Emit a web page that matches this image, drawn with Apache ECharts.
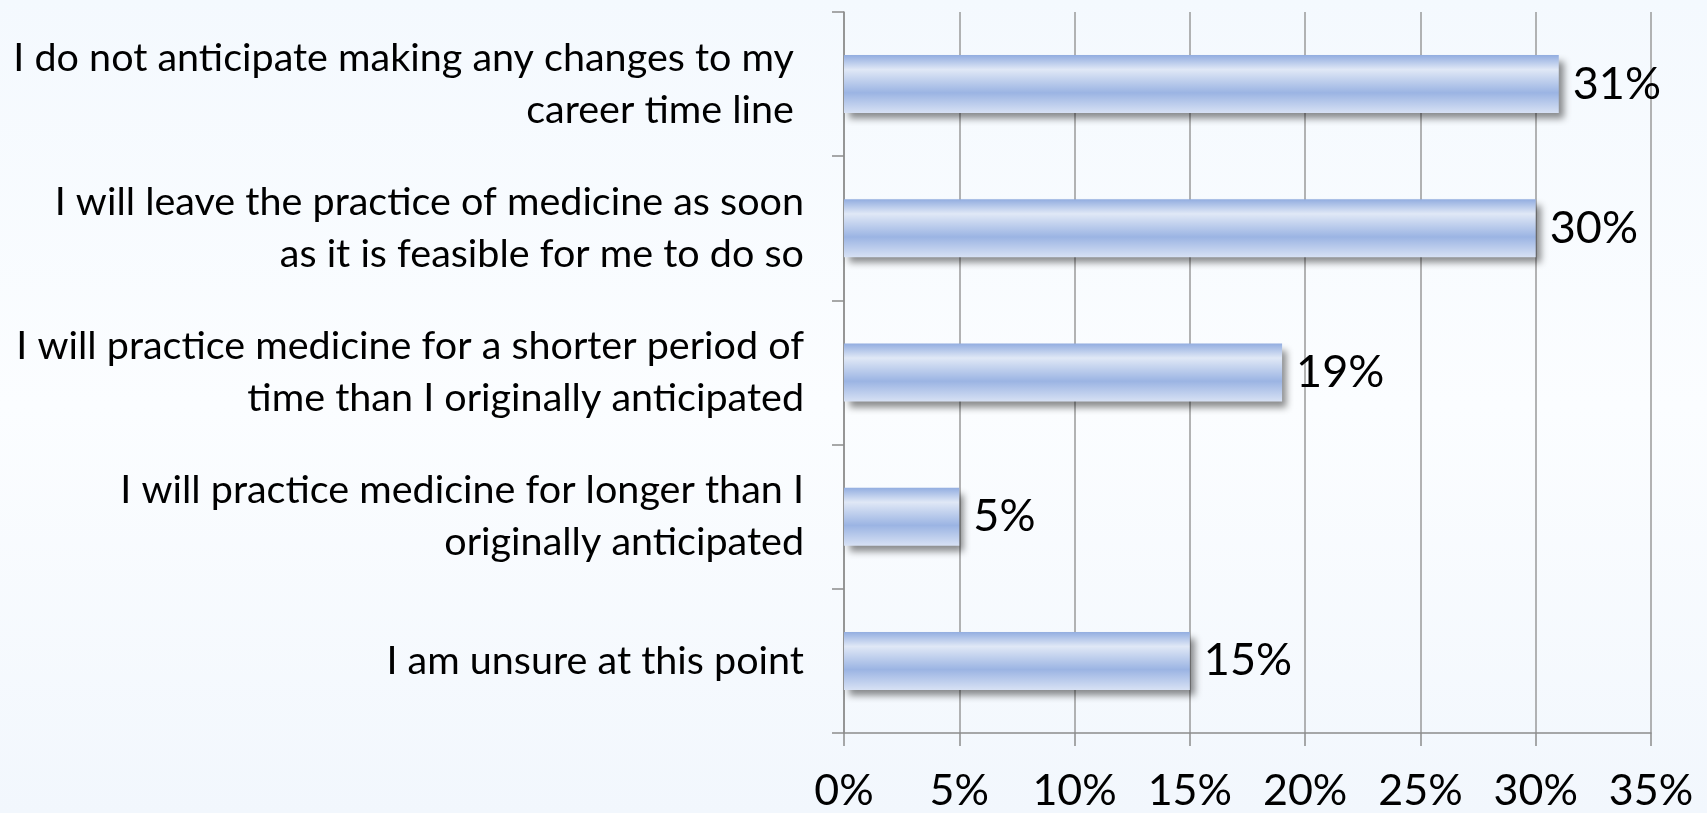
<!DOCTYPE html>
<html>
<head>
<meta charset="utf-8">
<script src="https://cdn.jsdelivr.net/npm/echarts@6/dist/echarts.min.js"></script>
<style>
  html, body { margin: 0; padding: 0; }
  #graph { width: 1707px; height: 813px; }
</style>
</head>
<body>
<div id="graph"></div>
<script>
// answers, top to bottom
const answers = [
  'I do not anticipate making any changes to my \ncareer time line ',
  'I will leave the practice of medicine as soon\nas it is feasible for me to do so',
  'I will practice medicine for a shorter period of\ntime than I originally anticipated',
  'I will practice medicine for longer than I\noriginally anticipated',
  'I am unsure at this point'
];
const shares = [31, 30, 19, 5, 15];
const pctTicks = [0, 5, 10, 15, 20, 25, 30, 35];

const mychart = echarts.init(document.getElementById('graph'));
const font = 'Lato, "Open Sans", sans-serif';

mychart.setOption({
  backgroundColor: new echarts.graphic.LinearGradient(0, 0, 0, 1, [
    {offset: 0, color: '#f4f9fe'},
    {offset: 0.5, color: '#fbfdff'},
    {offset: 1, color: '#f2f7fd'}
  ]),
  animation: false,
  grid: {left: 844, right: 56, top: 12, bottom: 80},
  xAxis: {
    type: 'value',
    min: 0,
    max: 35,
    interval: 5,
    axisLine: {show: true, lineStyle: {color: '#8c8c8c', width: 1.5}},
    axisTick: {show: true, length: 13, lineStyle: {color: '#8c8c8c', width: 1.5}},
    splitLine: {show: true, lineStyle: {color: '#9a9a9a', width: 1.5}},
    axisLabel: {
      color: '#000',
      fontFamily: font,
      fontSize: 43,
      margin: 37,
      formatter: v => (pctTicks.indexOf(v) >= 0 ? v + '%' : '')
    }
  },
  yAxis: {
    type: 'category',
    inverse: true,
    data: answers,
    axisLine: {show: true, lineStyle: {color: '#8c8c8c', width: 1.5}},
    axisTick: {show: true, length: 12, lineStyle: {color: '#8c8c8c', width: 1.5}},
    axisLabel: {
      color: '#000',
      fontFamily: font,
      fontSize: 39.5,
      lineHeight: 52,
      align: 'right',
      margin: 40
    }
  },
  series: [{
    type: 'bar',
    data: shares,
    barWidth: 58,
    itemStyle: {
      color: new echarts.graphic.LinearGradient(0, 0, 0, 1, [
        {offset: 0, color: '#92ade0'},
        {offset: 0.25, color: '#e0e8f6'},
        {offset: 0.65, color: '#9bb4e3'},
        {offset: 1, color: '#d7e1f4'}
      ]),
      shadowColor: 'rgba(0,0,0,0.45)',
      shadowBlur: 7,
      shadowOffsetX: 5,
      shadowOffsetY: 6
    },
    label: {
      show: true,
      position: 'right',
      distance: 14,
      color: '#000',
      fontFamily: font,
      fontSize: 45,
      formatter: p => p.value + '%'
    }
  }]
});
</script>
</body>
</html>
